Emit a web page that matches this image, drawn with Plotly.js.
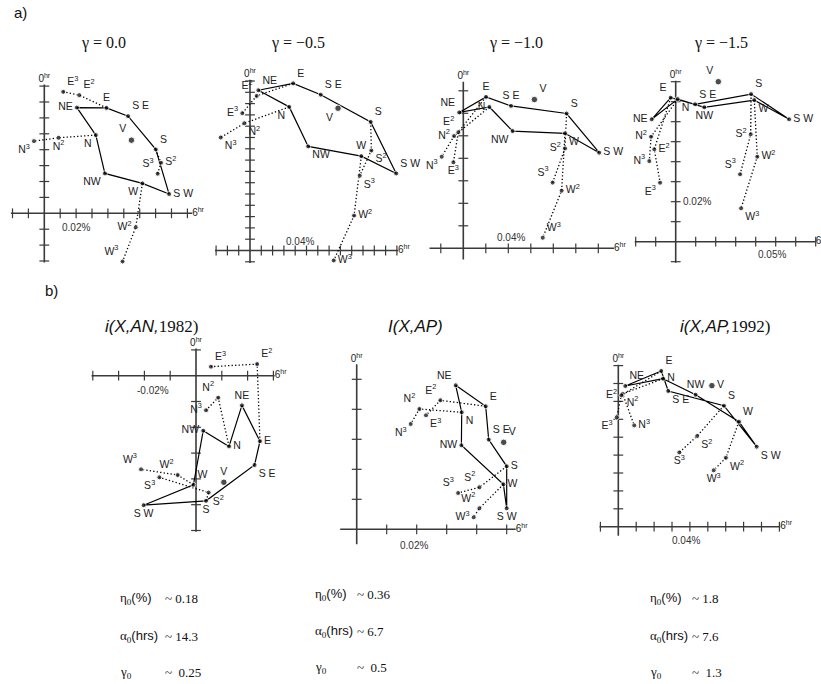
<!DOCTYPE html>
<html><head><meta charset="utf-8">
<script src="https://cdn.plot.ly/plotly-3.0.1.min.js"></script>
<style>html,body{margin:0;padding:0;background:#fff}</style>
</head><body><div id="chart" style="width:821px;height:684px"></div>
<script>
// Stations (points) shown in every panel
const stations = ['N','NE','E','SE','S','SW','W','NW','V','N2','N3','E2','E3','S2','S3','W2','W3'];
const stationLabels = ['N','NE','E','S E','S','S W','W','NW','V','N<sup>2</sup>','N<sup>3</sup>','E<sup>2</sup>','E<sup>3</sup>','S<sup>2</sup>','S<sup>3</sup>','W<sup>2</sup>','W<sup>3</sup>'];
const loopOrder = ['N','NE','E','SE','S','SW','W','NW','N'];
const dottedChains = [['E','E2','E3'],['N','N2','N3'],['S','S2','S3'],['W','W2','W3']];

// Values in % (x = 6hr direction, y = 0hr direction), order as in `stations`
const g00_x = [0.0324,0.0205,0.0391,0.0527,0.0701,0.0785,0.0617,0.0381,0.0548,0.0090,-0.0065,0.0220,0.0119,0.0734,0.0713,0.0575,0.0492];
const g00_y = [0.0492,0.0665,0.0663,0.0611,0.0402,0.0121,0.0188,0.0251,0.0460,0.0475,0.0454,0.0743,0.0764,0.0318,0.0249,-0.0088,-0.0303];

const g05_x = [0.0347,0.0074,0.0382,0.0626,0.1068,0.1294,0.0985,0.0515,0.0779,-0.0050,-0.0259,0.0059,-0.0068,0.1074,0.0971,0.0921,0.0741];
const g05_y = [0.1271,0.1418,0.1479,0.1379,0.1138,0.0682,0.0835,0.0921,0.1259,0.1126,0.1000,0.1368,0.1215,0.0885,0.0662,0.0309,-0.0088];

const g10_x = [0.0232,-0.0036,0.0202,0.0424,0.0918,0.1208,0.0904,0.0438,0.0632,-0.0082,-0.0192,-0.0044,-0.0088,0.0904,0.0794,0.0874,0.0706];
const g10_y = [0.1256,0.1208,0.1346,0.1266,0.1198,0.0850,0.1022,0.1042,0.1322,0.0998,0.0814,0.1032,0.0764,0.0888,0.0584,0.0512,0.0094];

const g15_x = [0.0010,-0.0120,-0.0025,0.0097,0.0377,0.0567,0.0393,0.0143,0.0213,-0.0123,-0.0132,-0.0107,-0.0078,0.0375,0.0322,0.0408,0.0327];
const g15_y = [0.0713,0.0612,0.0720,0.0687,0.0738,0.0612,0.0708,0.0672,0.0800,0.0525,0.0403,0.0462,0.0295,0.0537,0.0337,0.0425,0.0167];

const an82_x = [0.0128,0.0178,0.0248,0.0227,0.0039,-0.0203,-0.0010,0.0028,0.0108,0.0086,0.0039,0.0237,0.0058,0.0049,-0.0142,-0.0071,-0.0213];
const an82_y = [-0.0274,-0.0115,-0.0254,-0.0346,-0.0485,-0.0502,-0.0423,-0.0213,-0.0413,-0.0085,-0.0134,0.0045,0.0035,-0.0453,-0.0394,-0.0385,-0.0363];

const ap_x = [0.0350,0.0330,0.0430,0.0440,0.0500,0.0500,0.0489,0.0349,0.0490,0.0209,0.0180,0.0279,0.0231,0.0409,0.0338,0.0409,0.0390];
const ap_y = [0.0390,0.0480,0.0410,0.0299,0.0210,0.0070,0.0150,0.0280,0.0290,0.0401,0.0351,0.0430,0.0380,0.0140,0.0121,0.0070,0.0040];

const ap92_x = [0.0250,0.0039,0.0240,0.0279,0.0590,0.0773,0.0674,0.0432,0.0523,0.0024,0.0089,0.0017,-0.0009,0.0441,0.0341,0.0601,0.0533];
const ap92_y = [0.0827,0.0786,0.0870,0.0758,0.0676,0.0447,0.0587,0.0737,0.0788,0.0742,0.0566,0.0734,0.0611,0.0507,0.0415,0.0385,0.0315];

const panelTitles = ['γ = 0.0','γ = −0.5','γ = −1.0','γ = −1.5',
  '<i>i(X,AN,</i><span style="font-family:Liberation Serif">1982)</span>',
  '<i>I(X,AP)</i>',
  '<i>i(X,AP,</i><span style="font-family:Liberation Serif">1992)</span>'];
const scaleLabels = ['0.02%','0.04%','0.04%','0.05%','-0.02%','0.02%','0.04%'];
const statNames = ['η<sub>0</sub><span style="font-family:Liberation Sans">(%)</span>',
                   'α<sub>0</sub><span style="font-family:Liberation Sans">(hrs)</span>',
                   'γ<sub>0</sub>'];
const statValues = [['~ 0.18','~ 14.3','~  0.25'],['~ 0.36','~ 6.7','~  0.5'],['~ 1.8','~ 7.6','~  1.3']];

// ---- layout / style (pixels) ----
const W = 821, H = 684;
const P = [
 {x:g00_x, y:g00_y, ox:44.3, oy:213.3, s:15.9, step:0.01, xl:[-2.1,9.3], yl:[-3.1,8.1], xt:[-2,9], yt:[-3,8],
  scale:{t:2, dy:-14, dx:0}, title:[103,43],
  pos:['bottom left','middle left','top center','top right','top right','middle right','bottom left','bottom left','top left','bottom center','bottom left','top right','top right','middle right','top left','middle left','top left']},
 {x:g05_x, y:g05_y, ox:250, oy:250.5, s:11.3, step:0.01, xl:[-3.1,13.1], yl:[-1.1,15.1], xt:[-3,13], yt:[-1,15],
  scale:{t:4.4, dy:9, dx:0}, title:[298,43],
  pos:['bottom left','top right','top right','top right','top right','top right','top center','bottom right','bottom left','bottom right','bottom right','top left','middle left','bottom right','bottom right','middle right','middle right']},
 {x:g10_x, y:g10_y, ox:463.3, oy:248.3, s:22.5, step:0.02, xl:[-1.5,6.7], yl:[-0.5,7.4], xt:[-1,6], yt:[1,7],
  scale:{t:2.1, dy:11, dx:0}, title:[516,43],
  pos:['middle left','top left','top center','top center','top right','middle right','bottom right','bottom left','top right','middle left','bottom left','top left','bottom center','middle left','top left','middle right','top right']},
 {x:g15_x, y:g15_y, ox:675.7, oy:241.7, s:20, step:0.01, xl:[-2.05,7.0], yl:[-1.05,8.05], xt:[-2,7], yt:[-1,8],
  scale:{t:4.8, dy:-13, dx:0}, title:[721,43],
  pos:['bottom right','middle left','top left','top right','top right','middle right','bottom right','bottom center','top left','middle left','middle left','middle right','bottom left','middle left','top left','middle right','bottom right']},
 {x:an82_x, y:an82_y, ox:196, oy:375.7, s:25.8, step:0.01, xl:[-4.05,3.05], yl:[-6.05,1.05], xt:[-4,3], yt:[-6,1],
  scale:{t:-1.65, dy:-15, dx:0}, title:[152,326],
  pos:['middle right','top center','middle right','bottom right','bottom center','bottom center','top right','middle left','top center','top left','middle left','top right','top right','bottom right','bottom left','top left','top left']},
 {x:ap_x, y:ap_y, ox:356.7, oy:529.3, s:30, step:0.01, xl:[-0.55,5.3], yl:[-0.5,5.5], xt:[0,5], yt:[1,5],
  scale:{t:1.9, dy:-16, dx:0}, title:[416,326],
  pos:['bottom right','top left','top right','top right','middle right','bottom center','middle right','middle left','top right','top left','bottom left','top left','bottom right','top left','top left','top left','middle left']},
 {x:ap92_x, y:ap92_y, ox:618.3, oy:526.7, s:17.9, step:0.01, xl:[-1.05,9.05], yl:[-0.5,9.05], xt:[-1,9], yt:[1,9],
  scale:{t:3.8, dy:-14, dx:0}, title:[725,326],
  pos:['middle right','top right','top right','bottom right','top right','bottom right','top right','top center','middle right','bottom right','middle right','middle left','bottom left','bottom right','bottom center','bottom right','bottom center']}
];
const statCols = [[118,163],[313,355],[648,690]];
const statRows = [[598,636,672],[594,631,667],[598,636,672]];

const AX = '#3a3a3a';
const sans = 'Liberation Sans, Arial, sans-serif';
const serif = 'Liberation Serif, Times New Roman, serif';

const traces = [], layout = {
  width:W, height:H, margin:{l:0,r:0,t:0,b:0}, showlegend:false,
  paper_bgcolor:'#fff', plot_bgcolor:'rgba(0,0,0,0)', annotations:[]
};
const px2x = v => v / W, py2y = v => 1 - v / H;

P.forEach((p, i) => {
  const xa = i === 0 ? 'x' : 'x' + (i+1), ya = i === 0 ? 'y' : 'y' + (i+1);
  const xk = i === 0 ? 'xaxis' : 'xaxis' + (i+1), yk = i === 0 ? 'yaxis' : 'yaxis' + (i+1);
  const st = p.step, s = p.s;
  let xlo = Math.min(p.xl[0], Math.min(...p.x)/st) - 1.5, xhi = Math.max(p.xl[1], Math.max(...p.x)/st) + 1.5;
  let ylo = Math.min(p.yl[0], Math.min(...p.y)/st) - 1.5, yhi = Math.max(p.yl[1], Math.max(...p.y)/st) + 1.5;
  if (p.ox + xlo*s < 0) xlo = -p.ox/s;
  if (p.ox + xhi*s > W) xhi = (W - p.ox)/s;
  if (p.oy - yhi*s < 0) yhi = p.oy/s;
  if (p.oy - ylo*s > H) ylo = (p.oy - H)/s;
  layout[xk] = {domain:[(p.ox + xlo*s)/W, (p.ox + xhi*s)/W], range:[xlo*st, xhi*st], visible:false, anchor:ya, fixedrange:true};
  layout[yk] = {domain:[1 - (p.oy - ylo*s)/H, 1 - (p.oy - yhi*s)/H], range:[ylo*st, yhi*st], visible:false, anchor:xa, fixedrange:true};
  const base = {xaxis:xa, yaxis:ya, hoverinfo:'skip', cliponaxis:false};
  // axes
  traces.push({...base, type:'scatter', mode:'lines', x:[p.xl[0]*st, p.xl[1]*st], y:[0,0], line:{color:AX, width:1.6}});
  traces.push({...base, type:'scatter', mode:'lines', x:[0,0], y:[p.yl[0]*st, p.yl[1]*st], line:{color:AX, width:1.6}});
  const xtk = [], ytk = [];
  for (let k = p.xt[0]; k <= p.xt[1]; k++) if (k !== 0) xtk.push(k*st);
  for (let k = p.yt[0]; k <= p.yt[1]; k++) if (k !== 0) ytk.push(k*st);
  traces.push({...base, type:'scatter', mode:'markers', x:xtk, y:xtk.map(()=>0), marker:{symbol:'line-ns', size:7, line:{color:AX, width:1.2}}});
  traces.push({...base, type:'scatter', mode:'markers', x:ytk.map(()=>0), y:ytk, marker:{symbol:'line-ew', size:7, line:{color:AX, width:1.2}}});
  // axis end labels
  traces.push({...base, type:'scatter', mode:'text', x:[0], y:[p.yl[1]*st], text:['0<sup>hr</sup>'], textposition:'top center', textfont:{family:sans, size:10, color:'#222'}});
  traces.push({...base, type:'scatter', mode:'text', x:[p.xl[1]*st], y:[0], text:['6<sup>hr</sup>'], textposition:'middle right', textfont:{family:sans, size:10, color:'#222'}});
  // solid loop
  const idx = n => stations.indexOf(n);
  traces.push({...base, type:'scatter', mode:'lines', x:loopOrder.map(n=>p.x[idx(n)]), y:loopOrder.map(n=>p.y[idx(n)]), line:{color:'#000', width:1.2}});
  // dotted chains
  dottedChains.forEach(c => traces.push({...base, type:'scatter', mode:'lines', x:c.map(n=>p.x[idx(n)]), y:c.map(n=>p.y[idx(n)]), line:{color:'#000', width:1.3, dash:'1.3px,2.2px'}}));
  // points + labels
  traces.push({...base, type:'scatter', mode:'markers+text', x:p.x, y:p.y, text:stationLabels, textposition:p.pos,
    textfont:{family:sans, size:10.5, color:'#222'},
    marker:{color:'#000', size:stations.map(n=>n==='V'?6.5:5)}});
  // scale label
  layout.annotations.push({xref:xa, yref:ya, x:p.scale.t*st, y:0, text:scaleLabels[i], showarrow:false,
    yshift:p.scale.dy, xshift:p.scale.dx, font:{family:sans, size:10, color:'#333'}});
  // title
  layout.annotations.push({xref:'paper', yref:'paper', x:px2x(p.title[0]), y:py2y(p.title[1]), text:panelTitles[i], showarrow:false,
    xanchor:'center', yanchor:'middle', font:{family: i<4 ? serif : sans, size: i<4 ? 16 : 17, color:'#111'}});
});
// a4 extra scale label on the y-axis
layout.annotations.push({xref:'x4', yref:'y4', x:0, y:2*P[3].step, text:'0.02%', showarrow:false, xanchor:'left', xshift:5,
  font:{family:sans, size:10, color:'#333'}});
// section letters
layout.annotations.push({xref:'paper', yref:'paper', x:px2x(20), y:py2y(12), xanchor:'center', yanchor:'middle', text:'a)', showarrow:false, font:{family:sans, size:15, color:'#111'}});
layout.annotations.push({xref:'paper', yref:'paper', x:px2x(51), y:py2y(290), xanchor:'center', yanchor:'middle', text:'b)', showarrow:false, font:{family:sans, size:15, color:'#111'}});
// statistics
statCols.forEach((c, j) => {
  statNames.forEach((nm, r) => {
    layout.annotations.push({xref:'paper', yref:'paper', x:px2x(c[0]), y:py2y(statRows[j][r]), text:nm, showarrow:false, xanchor:'left', yanchor:'middle', font:{family:serif, size:13, color:'#111'}});
    layout.annotations.push({xref:'paper', yref:'paper', x:px2x(c[1]), y:py2y(statRows[j][r]), text:statValues[j][r], showarrow:false, xanchor:'left', yanchor:'middle', font:{family:serif, size:13, color:'#111'}});
  });
});
Plotly.newPlot('chart', traces, layout, {staticPlot:true, displayModeBar:false});
</script></body></html>
